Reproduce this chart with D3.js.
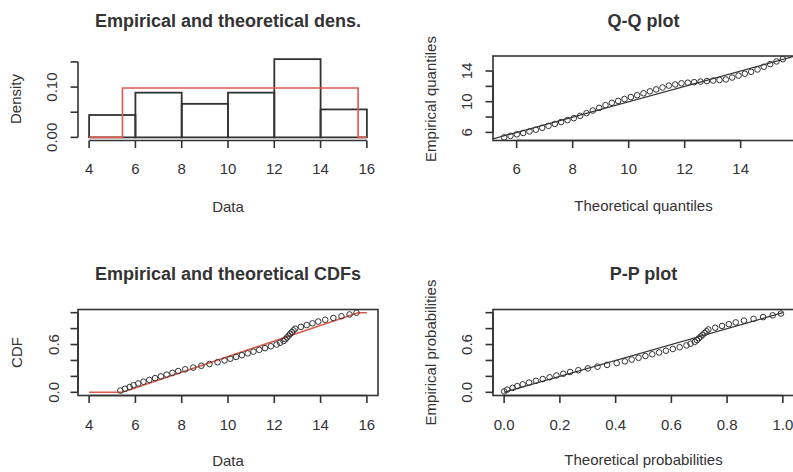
<!DOCTYPE html>
<html>
<head>
<meta charset="utf-8">
<script src="https://cdn.jsdelivr.net/npm/d3@7"></script>
<style>
  body { margin: 0; background: #fff; }
  svg { display: block; font-family: "Liberation Sans", Arial, sans-serif; }
</style>
</head>
<body>
<svg id="chart-svg" width="793" height="472"></svg>
<script>
const sample = [
  5.35, 5.55, 5.75, 5.92,
  6.12, 6.35, 6.60, 6.85, 7.10, 7.35, 7.60, 7.85,
  8.15, 8.50, 8.85, 9.20, 9.55, 9.85,
  10.10, 10.35, 10.60, 10.85, 11.10, 11.35, 11.60, 11.85,
  12.10, 12.25, 12.40, 12.48, 12.55, 12.62, 12.69, 12.76, 12.83, 12.90, 13.15, 13.40, 13.65, 13.90,
  14.20, 14.55, 14.90, 15.25, 15.55
];
const histBreaks = [4, 6, 8, 10, 12, 14, 16];
const unifMin = 5.44;   // fitted uniform
const unifMax = 15.62;

const densTicks = [0, 0.05, 0.10, 0.15];
const densLabels = ["0.00", "", "0.10", ""];
const dataTicks = [4, 6, 8, 10, 12, 14, 16];
const qqXTicks = [6, 8, 10, 12, 14];
const qqYTicks = [6, 8, 10, 12, 14];
const qqYLabels = ["6", "", "10", "", "14"];
const probTicks = [0, 0.2, 0.4, 0.6, 0.8, 1.0];
const probYLabels = ["0.0", "", "", "0.6", "", ""];
const probXLabels = ["0.0", "0.2", "0.4", "0.6", "0.8", "1.0"];

const svg = d3.select("#chart-svg");
const ink = "#333";
const red = "#e05a4a";
const n = sample.length;

// plot regions (R style 2x2)
const colL = [78, 378], colR = [493, 794];
const rowT = [140.5, 56], rowB = [395.5, 309.5];

function pad(ext) {
  const r = ext[1] - ext[0];
  return [ext[0] - 0.04 * r, ext[1] + 0.04 * r];
}

function title(txt, cx, y) {
  svg.append("text").attr("x", cx).attr("y", y)
    .attr("text-anchor", "middle").attr("font-size", 18).attr("font-weight", "bold")
    .attr("fill", ink).text(txt);
}
function xLabel(txt, cx, y) {
  svg.append("text").attr("x", cx).attr("y", y)
    .attr("text-anchor", "middle").attr("font-size", 15).attr("fill", ink).text(txt);
}
function yLabel(txt, x, cy) {
  svg.append("text").attr("transform", `translate(${x},${cy}) rotate(-90)`)
    .attr("text-anchor", "middle").attr("font-size", 15).attr("fill", ink).text(txt);
}

// bottom axis: line from first to last tick, ticks outward
function axisBottom(x, yPos, ticks, labels, labelY) {
  const g = svg.append("g");
  g.append("line").attr("x1", x(ticks[0])).attr("x2", x(ticks[ticks.length - 1]))
    .attr("y1", yPos).attr("y2", yPos).attr("stroke", ink).attr("stroke-width", 1.6);
  ticks.forEach((t, i) => {
    g.append("line").attr("x1", x(t)).attr("x2", x(t)).attr("y1", yPos).attr("y2", yPos + 7.5)
      .attr("stroke", ink).attr("stroke-width", 1.6);
    if (labels[i]) g.append("text").attr("x", x(t)).attr("y", labelY)
      .attr("text-anchor", "middle").attr("font-size", 15).attr("fill", ink).text(labels[i]);
  });
}
function axisLeft(y, xPos, ticks, labels, labelX) {
  const g = svg.append("g");
  g.append("line").attr("y1", y(ticks[0])).attr("y2", y(ticks[ticks.length - 1]))
    .attr("x1", xPos).attr("x2", xPos).attr("stroke", ink).attr("stroke-width", 1.6);
  ticks.forEach((t, i) => {
    g.append("line").attr("y1", y(t)).attr("y2", y(t)).attr("x1", xPos).attr("x2", xPos - 7.5)
      .attr("stroke", ink).attr("stroke-width", 1.6);
    if (labels[i]) g.append("text").attr("transform", `translate(${labelX},${y(t)}) rotate(-90)`)
      .attr("text-anchor", "middle").attr("font-size", 15).attr("fill", ink).text(labels[i]);
  });
}
function box(x0, x1, y0, y1) {
  svg.append("rect").attr("x", x0).attr("y", y1).attr("width", x1 - x0).attr("height", y0 - y1)
    .attr("fill", "none").attr("stroke", ink).attr("stroke-width", 1.6);
}
function clip(id, x0, x1, y0, y1) {
  svg.append("clipPath").attr("id", id).append("rect")
    .attr("x", x0).attr("y", y1).attr("width", x1 - x0).attr("height", y0 - y1);
  return `url(#${id})`;
}
function circles(pts, x, y) {
  svg.append("g").selectAll("circle").data(pts).enter().append("circle")
    .attr("cx", d => x(d[0])).attr("cy", d => y(d[1])).attr("r", 2.8)
    .attr("fill", "none").attr("stroke", ink).attr("stroke-width", 1);
}
const line = (x, y) => d3.line().x(d => x(d[0])).y(d => y(d[1]));

// ---------- 1. histogram + theoretical density ----------
const bins = d3.bin().domain([histBreaks[0], histBreaks[histBreaks.length - 1]]).thresholds(histBreaks.slice(1, -1))(sample);
const dens = bins.map(b => ({ x0: b.x0, x1: b.x1, d: b.length / (n * (b.x1 - b.x0)) }));
const unifD = 1 / (unifMax - unifMin);
const x1s = d3.scaleLinear().domain(pad([4, 16])).range(colL);
const y1s = d3.scaleLinear().domain(pad([0, d3.max(dens, d => d.d)])).range(rowT);

svg.append("g").selectAll("rect").data(dens).enter().append("rect")
  .attr("x", d => x1s(d.x0)).attr("width", d => x1s(d.x1) - x1s(d.x0))
  .attr("y", d => y1s(d.d)).attr("height", d => y1s(0) - y1s(d.d))
  .attr("fill", "none").attr("stroke", ink).attr("stroke-width", 1.8);
const densCurve = [[4, 0], [unifMin, 0], [unifMin, unifD], [unifMax, unifD], [unifMax, 0], [16, 0]];
svg.append("path").datum(densCurve).attr("d", line(x1s, y1s))
  .attr("fill", "none").attr("stroke", red).attr("stroke-width", 1.6);
axisBottom(x1s, rowT[0], dataTicks, dataTicks.map(String), 173.5);
axisLeft(y1s, colL[0], densTicks, densLabels, 56.5);
title("Empirical and theoretical dens.", 228, 26.5);
xLabel("Data", 228, 211.5);
yLabel("Density", 20.5, 99);

// ---------- 2. Q-Q plot ----------
const theoQ = sample.map((v, i) => unifMin + (i + 0.5) / n * (unifMax - unifMin));
const qqPts = sample.map((v, i) => [theoQ[i], v]);
const x2s = d3.scaleLinear().domain(pad(d3.extent(theoQ))).range(colR);
const y2s = d3.scaleLinear().domain(pad(d3.extent(sample))).range(rowT);
svg.append("path").datum([[0, 0], [20, 20]]).attr("d", line(x2s, y2s))
  .attr("clip-path", clip("c2", colR[0], colR[1], rowT[0], rowT[1]))
  .attr("fill", "none").attr("stroke", ink).attr("stroke-width", 1.2);
circles(qqPts, x2s, y2s);
box(colR[0], colR[1], rowT[0], rowT[1]);
axisBottom(x2s, rowT[0], qqXTicks, qqXTicks.map(String), 174);
axisLeft(y2s, colR[0], qqYTicks, qqYLabels, 471.5);
title("Q-Q plot", 643.5, 26.5);
xLabel("Theoretical quantiles", 643.5, 211);
yLabel("Empirical quantiles", 436, 99);

// ---------- 3. CDFs ----------
const x3s = d3.scaleLinear().domain(pad([4, 16])).range(colL);
const y3s = d3.scaleLinear().domain(pad([0, 1])).range(rowB);
const cdfCurve = [[4, 0], [unifMin, 0], [unifMax, 1], [16, 1]];
svg.append("path").datum(cdfCurve).attr("d", line(x3s, y3s))
  .attr("fill", "none").attr("stroke", red).attr("stroke-width", 1.6);
circles(sample.map((v, i) => [v, (i + 1) / n]), x3s, y3s);
box(colL[0], colL[1], rowB[0], rowB[1]);
axisBottom(x3s, rowB[0], dataTicks, dataTicks.map(String), 429.5);
axisLeft(y3s, colL[0], probTicks, probYLabels, 59);
title("Empirical and theoretical CDFs", 228, 280);
xLabel("Data", 228, 465.5);
yLabel("CDF", 21.5, 352.5);

// ---------- 4. P-P plot ----------
const punif = v => Math.min(1, Math.max(0, (v - unifMin) / (unifMax - unifMin)));
const x4s = d3.scaleLinear().domain(pad([0, 1])).range(colR);
const y4s = d3.scaleLinear().domain(pad([0, 1])).range(rowB);
svg.append("path").datum([[0, 0], [1, 1]]).attr("d", line(x4s, y4s))
  .attr("fill", "none").attr("stroke", ink).attr("stroke-width", 1.2);
circles(sample.map((v, i) => [punif(v), (i + 0.5) / n]), x4s, y4s);
box(colR[0], colR[1], rowB[0], rowB[1]);
axisBottom(x4s, rowB[0], probTicks, probXLabels, 430);
axisLeft(y4s, colR[0], probTicks, probYLabels, 471.5);
title("P-P plot", 643.5, 280);
xLabel("Theoretical probabilities", 643.5, 465);
yLabel("Empirical probabilities", 436, 352.5);
</script>
</body>
</html>
